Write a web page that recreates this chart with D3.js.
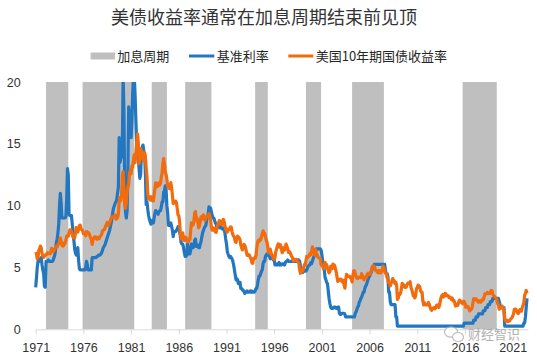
<!DOCTYPE html>
<html>
<head>
<meta charset="utf-8">
<script src="https://cdn.jsdelivr.net/npm/d3@7/dist/d3.min.js"></script>
<style>
  body { margin: 0; background: #fff; }
  svg { display: block; }
</style>
</head>
<body>
<svg id="chart" width="537" height="360"></svg>
<script>
// monthly values, starting Jan 1971
var firstMonth = "1971-01-01";

// 基准利率 (one row per year)
var fedRate = [
  3.4, 4.2, 5.0, 5.5, 5.7, 5.5, 5.6, 5.8, 5.2, 4.8, 4.5, 3.5,
  3.4, 5.5, 5.5, 5.5, 5.6, 5.5, 5.5, 5.5, 5.5, 5.5, 5.6, 5.8,
  6.0, 6.5, 7.0, 7.3, 7.8, 8.5, 10.0, 11.0, 10.2, 9.0, 9.0, 9.0,
  9.0, 9.0, 9.1, 10.5, 13.0, 12.5, 9.3, 9.2, 9.2, 9.2, 8.5, 7.8,
  7.2, 6.5, 6.2, 6.0, 6.4, 6.6, 5.6, 4.9, 4.8, 4.8, 4.8, 4.8,
  4.8, 4.8, 4.8, 5.0, 5.5, 5.2, 4.8, 4.8, 4.8, 4.8, 4.8, 5.8,
  5.8, 5.8, 5.8, 5.8, 5.8, 5.9, 5.9, 6.0, 6.0, 6.0, 6.1, 6.2,
  6.4, 6.6, 6.7, 6.8, 7.0, 7.2, 7.4, 7.6, 7.8, 8.0, 8.3, 8.6,
  9.0, 9.5, 9.8, 10.0, 10.2, 10.3, 10.5, 11.0, 11.5, 15.5, 13.5, 13.8,
  14.0, 15.0, 20.5, 17.6, 11.0, 9.5, 9.0, 9.6, 13.0, 18.0, 17.0, 16.0,
  15.5, 17.0, 19.0, 20.5, 20.5, 19.0, 17.0, 15.0, 14.5, 14.0, 13.0, 12.2,
  12.5, 14.5, 14.7, 14.9, 14.4, 14.2, 12.6, 10.1, 10.3, 9.7, 9.2, 8.9,
  8.7, 8.5, 8.8, 8.8, 8.6, 9.0, 9.4, 9.6, 9.5, 9.5, 9.3, 9.5,
  9.6, 9.6, 9.9, 10.3, 10.3, 11.1, 11.2, 11.6, 11.3, 10.0, 9.4, 8.4,
  8.4, 8.5, 8.6, 8.3, 8.0, 7.5, 7.9, 7.9, 7.9, 8.0, 8.1, 8.3,
  8.1, 7.9, 7.5, 7.0, 6.9, 6.9, 6.6, 6.2, 5.9, 5.9, 6.0, 6.9,
  6.4, 6.1, 6.1, 6.4, 6.9, 6.7, 6.6, 6.7, 7.2, 7.3, 6.7, 6.8,
  6.8, 6.6, 6.6, 6.9, 7.1, 7.5, 7.8, 8.0, 8.2, 8.3, 8.4, 8.8,
  9.1, 9.4, 9.9, 9.8, 9.8, 9.5, 9.2, 9.0, 9.0, 8.8, 8.6, 8.5,
  8.2, 8.2, 8.3, 8.3, 8.2, 8.3, 8.2, 8.1, 8.2, 8.1, 7.8, 7.3,
  6.9, 6.3, 6.1, 5.9, 5.8, 5.9, 5.8, 5.7, 5.5, 5.2, 4.8, 4.4,
  4.0, 4.1, 4.0, 3.7, 3.8, 3.8, 3.3, 3.3, 3.2, 3.1, 3.1, 2.9,
  3.0, 3.0, 3.1, 3.0, 3.0, 3.0, 3.1, 3.0, 3.1, 3.0, 3.0, 3.0,
  3.1, 3.3, 3.3, 3.6, 4.0, 4.3, 4.3, 4.5, 4.7, 4.8, 5.3, 5.5,
  5.5, 5.9, 6.0, 6.1, 6.0, 6.0, 5.9, 5.7, 5.8, 5.8, 5.8, 5.6,
  5.6, 5.2, 5.3, 5.2, 5.2, 5.3, 5.4, 5.2, 5.3, 5.2, 5.3, 5.3,
  5.3, 5.2, 5.4, 5.5, 5.5, 5.6, 5.5, 5.5, 5.5, 5.5, 5.5, 5.5,
  5.6, 5.5, 5.5, 5.5, 5.5, 5.6, 5.5, 5.6, 5.5, 5.1, 4.8, 4.7,
  4.6, 4.8, 4.8, 4.7, 4.7, 4.8, 5.0, 5.1, 5.2, 5.2, 5.4, 5.3,
  5.5, 5.7, 5.9, 6.0, 6.3, 6.5, 6.5, 6.5, 6.5, 6.5, 6.5, 6.4,
  6.0, 5.5, 5.3, 4.8, 4.2, 4.0, 3.8, 3.7, 3.1, 2.5, 2.1, 1.8,
  1.7, 1.7, 1.7, 1.8, 1.8, 1.8, 1.7, 1.7, 1.8, 1.8, 1.3, 1.2,
  1.2, 1.3, 1.3, 1.3, 1.3, 1.2, 1.0, 1.0, 1.0, 1.0, 1.0, 1.0,
  1.0, 1.0, 1.0, 1.0, 1.0, 1.0, 1.3, 1.4, 1.6, 1.8, 1.9, 2.2,
  2.3, 2.5, 2.6, 2.8, 3.0, 3.0, 3.3, 3.5, 3.6, 3.8, 4.0, 4.2,
  4.3, 4.5, 4.6, 4.8, 4.9, 5.0, 5.25, 5.25, 5.25, 5.25, 5.25, 5.25,
  5.25, 5.25, 5.25, 5.25, 5.25, 5.25, 5.25, 5.25, 4.75, 4.5, 4.5, 4.25,
  3.0, 3.0, 2.25, 2.0, 2.0, 2.0, 2.0, 2.0, 2.0, 1.0, 1.0, 0.25,
  0.25, 0.25, 0.25, 0.25, 0.25, 0.25, 0.25, 0.25, 0.25, 0.25, 0.25, 0.25,
  0.25, 0.25, 0.25, 0.25, 0.25, 0.25, 0.25, 0.25, 0.25, 0.25, 0.25, 0.25,
  0.25, 0.25, 0.25, 0.25, 0.25, 0.25, 0.25, 0.25, 0.25, 0.25, 0.25, 0.25,
  0.25, 0.25, 0.25, 0.25, 0.25, 0.25, 0.25, 0.25, 0.25, 0.25, 0.25, 0.25,
  0.25, 0.25, 0.25, 0.25, 0.25, 0.25, 0.25, 0.25, 0.25, 0.25, 0.25, 0.25,
  0.25, 0.25, 0.25, 0.25, 0.25, 0.25, 0.25, 0.25, 0.25, 0.25, 0.25, 0.25,
  0.25, 0.25, 0.25, 0.25, 0.25, 0.25, 0.25, 0.25, 0.25, 0.25, 0.25, 0.5,
  0.5, 0.5, 0.5, 0.5, 0.5, 0.5, 0.5, 0.5, 0.5, 0.5, 0.5, 0.75,
  0.75, 0.75, 1.0, 1.0, 1.0, 1.25, 1.25, 1.25, 1.25, 1.25, 1.25, 1.5,
  1.5, 1.5, 1.75, 1.75, 1.75, 2.0, 2.0, 2.0, 2.25, 2.25, 2.25, 2.5,
  2.5, 2.5, 2.5, 2.5, 2.5, 2.5, 2.5, 2.25, 2.0, 1.75, 1.75, 1.75,
  1.75, 1.75, 0.25, 0.25, 0.25, 0.25, 0.25, 0.25, 0.25, 0.25, 0.25, 0.25,
  0.25, 0.25, 0.25, 0.25, 0.25, 0.25, 0.25, 0.25, 0.25, 0.25, 0.25, 0.25,
  0.25, 0.25, 0.5, 0.5, 1.0, 1.75, 2.5
];

// 美国10年期国债收益率
var us10y = [
  6.24, 6.11, 5.70, 5.83, 6.39, 6.52, 6.73, 6.58, 6.14, 5.93, 5.81, 5.93,
  5.95, 6.08, 6.07, 6.19, 6.13, 6.11, 6.11, 6.21, 6.55, 6.48, 6.28, 6.36,
  6.46, 6.64, 6.71, 6.67, 6.85, 6.90, 7.13, 7.40, 7.09, 6.79, 6.73, 6.74,
  6.99, 6.96, 7.21, 7.51, 7.58, 7.54, 7.81, 8.04, 8.04, 7.90, 7.68, 7.43,
  7.50, 7.39, 7.73, 8.23, 8.06, 7.86, 8.06, 8.40, 8.43, 8.15, 8.05, 8.00,
  7.74, 7.79, 7.73, 7.56, 7.90, 7.86, 7.83, 7.77, 7.59, 7.41, 7.29, 6.87,
  7.21, 7.39, 7.46, 7.37, 7.46, 7.28, 7.33, 7.40, 7.34, 7.52, 7.58, 7.69,
  7.96, 8.03, 8.04, 8.15, 8.35, 8.46, 8.64, 8.41, 8.42, 8.64, 8.81, 9.01,
  9.10, 9.10, 9.12, 9.18, 9.25, 8.91, 8.95, 9.03, 9.33, 10.30, 10.65, 10.39,
  10.80, 12.41, 12.75, 11.47, 10.18, 9.78, 10.25, 11.10, 11.51, 11.75, 12.68, 12.84,
  12.57, 13.19, 13.12, 13.68, 14.10, 13.47, 14.28, 14.94, 15.80, 15.15, 13.39, 13.72,
  14.59, 14.43, 13.86, 13.87, 13.62, 14.30, 13.95, 13.06, 12.34, 10.91, 10.55, 10.54,
  10.46, 10.72, 10.51, 10.40, 10.38, 10.85, 11.38, 11.85, 11.65, 11.54, 11.69, 11.83,
  11.67, 11.84, 12.32, 12.63, 13.41, 13.80, 13.36, 12.72, 12.52, 12.16, 11.57, 11.50,
  11.38, 11.51, 11.86, 11.43, 10.85, 10.16, 10.31, 10.33, 10.37, 10.24, 9.78, 9.26,
  9.19, 8.70, 7.78, 7.30, 7.71, 7.80, 7.30, 7.17, 7.45, 7.43, 7.25, 7.11,
  7.08, 7.25, 7.25, 8.02, 8.61, 8.40, 8.45, 8.76, 9.42, 9.52, 8.86, 8.99,
  8.67, 8.21, 8.37, 8.72, 9.09, 8.92, 9.06, 9.26, 8.98, 8.80, 8.96, 9.11,
  9.09, 9.17, 9.36, 9.18, 8.86, 8.28, 8.02, 8.11, 8.19, 8.01, 7.87, 7.84,
  8.21, 8.47, 8.59, 8.79, 8.76, 8.48, 8.47, 8.75, 8.89, 8.72, 8.39, 8.08,
  8.09, 7.85, 8.11, 8.04, 8.07, 8.28, 8.27, 7.90, 7.65, 7.53, 7.42, 7.09,
  7.03, 7.34, 7.54, 7.48, 7.39, 7.26, 6.84, 6.59, 6.42, 6.59, 6.87, 6.77,
  6.60, 6.26, 5.98, 5.97, 6.04, 5.96, 5.81, 5.68, 5.36, 5.33, 5.72, 5.77,
  5.75, 5.97, 6.48, 6.97, 7.18, 7.10, 7.30, 7.24, 7.46, 7.74, 7.96, 7.81,
  7.78, 7.47, 7.20, 7.06, 6.63, 6.17, 6.28, 6.49, 6.20, 6.04, 5.93, 5.71,
  5.65, 5.81, 6.27, 6.51, 6.74, 6.91, 6.87, 6.64, 6.83, 6.53, 6.20, 6.30,
  6.58, 6.42, 6.69, 6.89, 6.71, 6.49, 6.22, 6.30, 6.21, 6.03, 5.88, 5.81,
  5.54, 5.57, 5.65, 5.64, 5.65, 5.50, 5.46, 5.34, 4.81, 4.53, 4.83, 4.65,
  4.72, 5.00, 5.23, 5.18, 5.54, 5.90, 5.79, 5.94, 5.92, 6.11, 6.03, 6.28,
  6.66, 6.52, 6.26, 5.99, 6.44, 6.10, 6.05, 5.83, 5.80, 5.74, 5.72, 5.24,
  5.16, 5.10, 4.89, 5.14, 5.39, 5.28, 5.24, 4.97, 4.73, 4.57, 4.65, 5.09,
  5.04, 4.91, 5.28, 5.21, 5.16, 4.93, 4.65, 4.26, 3.87, 3.94, 4.05, 4.03,
  4.05, 3.90, 3.81, 3.96, 3.57, 3.33, 3.98, 4.45, 4.27, 4.29, 4.30, 4.27,
  4.15, 4.08, 3.83, 4.35, 4.72, 4.73, 4.50, 4.28, 4.13, 4.10, 4.19, 4.23,
  4.22, 4.17, 4.50, 4.34, 4.14, 4.00, 4.18, 4.26, 4.20, 4.46, 4.54, 4.47,
  4.42, 4.57, 4.72, 4.99, 5.11, 5.11, 5.09, 4.88, 4.72, 4.73, 4.60, 4.56,
  4.76, 4.72, 4.56, 4.69, 4.75, 5.10, 5.00, 4.67, 4.52, 4.53, 4.15, 4.10,
  3.74, 3.74, 3.51, 3.68, 3.88, 4.10, 4.01, 3.89, 3.69, 3.81, 3.53, 2.42,
  2.52, 2.87, 2.82, 2.93, 3.29, 3.72, 3.56, 3.59, 3.40, 3.39, 3.40, 3.59,
  3.73, 3.69, 3.73, 3.85, 3.42, 3.20, 3.01, 2.70, 2.65, 2.54, 2.76, 3.29,
  3.39, 3.58, 3.41, 3.46, 3.17, 3.00, 3.00, 2.30, 1.98, 2.15, 2.01, 1.98,
  1.97, 1.97, 2.17, 2.05, 1.80, 1.62, 1.53, 1.68, 1.72, 1.75, 1.65, 1.72,
  1.91, 1.98, 1.96, 1.76, 1.93, 2.30, 2.58, 2.74, 2.81, 2.62, 2.72, 2.90,
  2.86, 2.71, 2.72, 2.71, 2.56, 2.60, 2.54, 2.42, 2.53, 2.30, 2.33, 2.21,
  1.88, 1.98, 2.04, 1.94, 2.20, 2.36, 2.32, 2.17, 2.17, 2.07, 2.26, 2.24,
  2.09, 1.78, 1.89, 1.81, 1.81, 1.64, 1.50, 1.56, 1.63, 1.76, 2.14, 2.49,
  2.43, 2.42, 2.48, 2.30, 2.30, 2.19, 2.32, 2.21, 2.20, 2.36, 2.35, 2.40,
  2.58, 2.86, 2.84, 2.87, 2.98, 2.91, 2.89, 2.89, 3.00, 3.15, 3.12, 2.83,
  2.71, 2.68, 2.57, 2.53, 2.40, 2.07, 2.06, 1.63, 1.70, 1.71, 1.81, 1.86,
  1.76, 1.50, 0.87, 0.66, 0.67, 0.73, 0.62, 0.65, 0.68, 0.79, 0.87, 0.93,
  1.08, 1.26, 1.61, 1.64, 1.62, 1.52, 1.32, 1.28, 1.37, 1.58, 1.56, 1.47,
  1.76, 1.93, 2.13, 2.75, 2.90, 3.14, 2.90
];

// 加息周期 start / end
var hikeStart = ["1972-02", "1975-12", "1983-03", "1986-09", "1994-01", "1999-05", "2004-03", "2015-10"];
var hikeEnd   = ["1974-06", "1981-05", "1984-10", "1989-06", "1995-05", "2000-12", "2007-07", "2019-05"];

var yearTicks = [1971, 1976, 1981, 1986, 1991, 1996, 2001, 2006, 2011, 2016, 2021];
var yTicks = [0, 5, 10, 15, 20];

var titleText = "美债收益率通常在加息周期结束前见顶";
var legendNames = ["加息周期", "基准利率", "美国10年期国债收益率"];

var colors = { band: "#bfbfbf", fed: "#2277c0", yield: "#f26b0c" };
var cjk = "'Noto Sans CJK SC', 'Noto Sans', sans-serif";
var num = "'Liberation Sans', Arial, 'Noto Sans CJK SC', sans-serif";

var svg = d3.select("svg#chart");

var parseMonth = d3.timeParse("%Y-%m");
var start = d3.timeParse("%Y-%m-%d")(firstMonth);

function toSeries(arr) {
  return arr.map(function (v, i) {
    return { date: d3.timeMonth.offset(start, i), value: v };
  });
}

var fedSeries = toSeries(fedRate);
var yieldSeries = toSeries(us10y);

var x = d3.scaleTime()
  .domain([start, new Date(2022, 7, 1)])
  .range([35.7, 527.8]);

var y = d3.scaleLinear()
  .domain([0, 20])
  .range([329.3, 82]);

// title
svg.append("text")
  .attr("x", 264)
  .attr("y", 24)
  .attr("text-anchor", "middle")
  .style("font-family", cjk)
  .style("font-size", "18px")
  .style("fill", "#333")
  .text(titleText);

// legend
var legend = svg.append("g").style("font-family", cjk).style("font-size", "13px").style("fill", "#262626");
legend.append("rect").attr("x", 90.7).attr("y", 52.5).attr("width", 24.3).attr("height", 7).attr("fill", colors.band);
legend.append("text").attr("x", 117.3).attr("y", 60.5).text(legendNames[0]);
legend.append("line").attr("x1", 189).attr("x2", 214.3).attr("y1", 56).attr("y2", 56)
  .attr("stroke", colors.fed).attr("stroke-width", 3);
legend.append("text").attr("x", 216.7).attr("y", 60.5).text(legendNames[1]);
legend.append("line").attr("x1", 288.3).attr("x2", 313.3).attr("y1", 56).attr("y2", 56)
  .attr("stroke", colors.yield).attr("stroke-width", 3);
legend.append("text").attr("x", 315.7).attr("y", 60.5).text(legendNames[2]);

// hike bands
svg.append("g")
  .selectAll("rect")
  .data(hikeStart)
  .join("rect")
  .attr("x", function (d) { return x(parseMonth(d)); })
  .attr("width", function (d, i) { return x(parseMonth(hikeEnd[i])) - x(parseMonth(d)); })
  .attr("y", y(20))
  .attr("height", y(0) - y(20))
  .attr("fill", colors.band);

// x axis
var xAxis = d3.axisBottom(x)
  .tickValues(yearTicks.map(function (yr) { return new Date(yr, 0, 1); }))
  .tickFormat(d3.timeFormat("%Y"))
  .tickSize(5)
  .tickSizeOuter(0)
  .tickPadding(9);

var gx = svg.append("g")
  .attr("transform", "translate(0," + y(0) + ")")
  .call(xAxis);
gx.select(".domain").attr("stroke", "#d9d9d9");
gx.selectAll(".tick line").attr("stroke", "#d9d9d9");
gx.selectAll(".tick text")
  .style("font-family", num)
  .style("font-size", "12.5px")
  .style("fill", "#333");

// y axis labels only
var yAxis = d3.axisLeft(y).tickValues(yTicks).tickSize(0).tickPadding(0);
var gy = svg.append("g")
  .attr("transform", "translate(20.7,0)")
  .call(yAxis);
gy.select(".domain").remove();
gy.selectAll(".tick text")
  .style("font-family", num)
  .style("font-size", "12.5px")
  .style("fill", "#333");

// lines
svg.append("clipPath").attr("id", "plotclip")
  .append("rect")
  .attr("x", 30).attr("y", y(20))
  .attr("width", 505).attr("height", y(0) - y(20) + 4);

var line = d3.line()
  .x(function (d) { return x(d.date); })
  .y(function (d) { return y(d.value); });

var lines = svg.append("g").attr("clip-path", "url(#plotclip)");
lines.append("path")
  .datum(fedSeries)
  .attr("d", line)
  .attr("fill", "none")
  .attr("stroke", colors.fed)
  .attr("stroke-width", 3.2)
  .attr("stroke-linejoin", "round");
lines.append("path")
  .datum(yieldSeries)
  .attr("d", line)
  .attr("fill", "none")
  .attr("stroke", colors.yield)
  .attr("stroke-width", 3.2)
  .attr("stroke-linejoin", "round");

// watermark
var wm = svg.append("g").attr("opacity", 0.75);
wm.append("ellipse").attr("cx", 451).attr("cy", 332).attr("rx", 6.5).attr("ry", 5.2)
  .attr("fill", "#fff").attr("stroke", "#aaa").attr("stroke-width", 1.2);
wm.append("ellipse").attr("cx", 458).attr("cy", 337).attr("rx", 5.5).attr("ry", 4.5)
  .attr("fill", "#fff").attr("stroke", "#aaa").attr("stroke-width", 1.2);
wm.append("text")
  .attr("x", 468)
  .attr("y", 339)
  .style("font-family", cjk)
  .style("font-size", "13px")
  .style("fill", "#999")
  .text("财经智识");
</script>
</body>
</html>
